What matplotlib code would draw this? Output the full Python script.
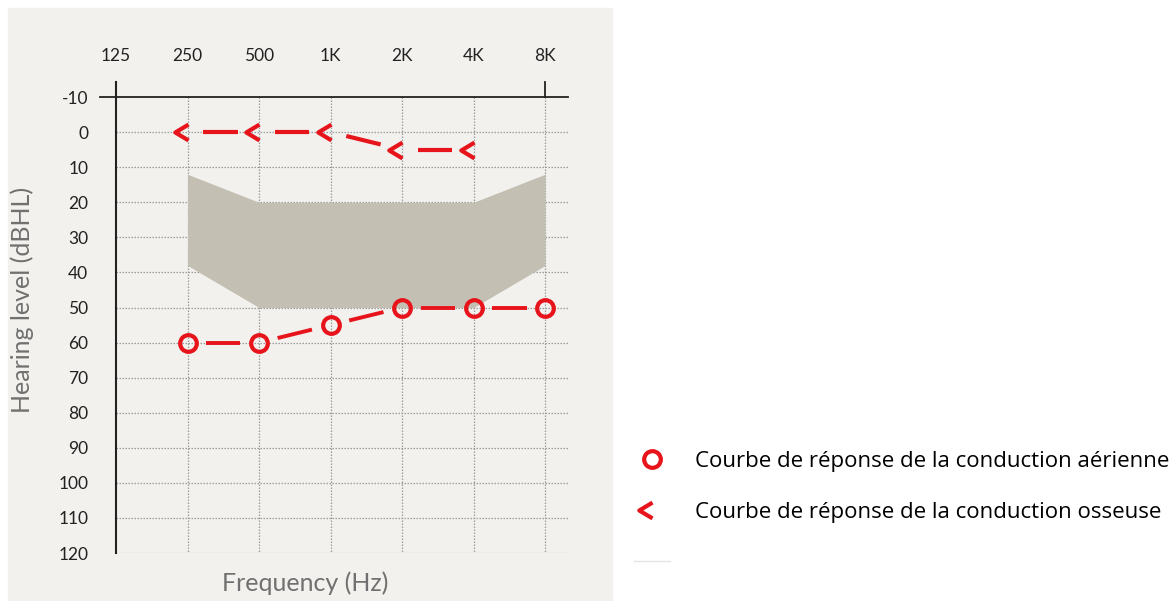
import matplotlib
matplotlib.use("Agg")
from matplotlib import pyplot as plt
from matplotlib.lines import Line2D
from matplotlib.patches import Rectangle
from matplotlib.path import Path
import numpy as np

# audiogram data
freq_labels = ["125", "250", "500", "1K", "2K", "4K", "8K"]
levels = list(range(-10, 121, 10))

air_freq = [1, 2, 3, 4, 5, 6]          # 250 .. 8K
air_level = [60, 60, 55, 50, 50, 50]

bone_freq = [1, 2, 3, 4, 5]            # 250 .. 4K
bone_level = [0, 0, 0, 5, 5]

# normal hearing zone (shaded band)
zone_freq = [1, 2, 3, 4, 5, 6]
zone_top = [12, 20, 20, 20, 20, 12]
zone_bottom = [38, 50, 50, 50, 50, 38]

legend_labels = ["Courbe de réponse de la conduction aérienne",
                 "Courbe de réponse de la conduction osseuse",
                 " "]

RED = "#e8141b"
GRID = "#9a9a9a"
PANEL = "#f2f1ee"
ZONE = "#c4bfb3"

# open chevron marker, tip on the left, anchored at right end
chevron = Path([(0, 0.6), (-1, 0), (0, -0.6)],
               [Path.MOVETO, Path.LINETO, Path.LINETO])


def dashed_links(ax, xs, ys, f0, f1, **kw):
    # one dash between each pair of points, leaving a gap round the markers
    for i in range(len(xs) - 1):
        x0, x1 = xs[i], xs[i + 1]
        y0, y1 = ys[i], ys[i + 1]
        ax.plot([x0 + f0 * (x1 - x0), x0 + f1 * (x1 - x0)],
                [y0 + f0 * (y1 - y0), y0 + f1 * (y1 - y0)], **kw)


fig = plt.figure(figsize=(11.76, 6.01), dpi=100)
fig.patches.append(Rectangle((8 / 1176, 0), 604 / 1176, 593 / 601,
                             transform=fig.transFigure, color=PANEL, zorder=-10))

ax = fig.add_axes([116 / 1176, 1 - 553 / 601, 452 / 1176, 471 / 601])
ax.set_facecolor("none")
ax.set_xlim(0, 6.32)
ax.set_ylim(120, -14.3)

# grid
ax.hlines(levels[1:], 0, 6.32, colors=GRID, linestyles=(0, (1.2, 1.2)), lw=0.9, zorder=1)
ax.vlines(range(1, 7), -10, 120, colors=GRID, linestyles=(0, (1.2, 1.2)), lw=0.9, zorder=1)
ax.plot([-0.22, 6.32], [-10, -10], color="#222222", lw=1.3, clip_on=False, zorder=2)
ax.plot([6, 6], [-14.3, -10], color="#222222", lw=1.3, clip_on=False, zorder=2)

# normal zone
ax.fill_between(zone_freq, zone_top, zone_bottom, color=ZONE, lw=0, zorder=1.5)

# air conduction
dashed_links(ax, air_freq, air_level, 0.26, 0.74, color=RED, lw=2.8,
             solid_capstyle="butt", zorder=3)
ax.plot(air_freq, air_level, ls="none", marker="o", ms=12, mfc="none",
        mec=RED, mew=3, zorder=4)

# bone conduction
dashed_links(ax, bone_freq, bone_level, 0.22, 0.70, color=RED, lw=3,
             solid_capstyle="butt", zorder=3)
ax.plot(bone_freq, bone_level, ls="none", marker=chevron, ms=19, mfc="none",
        mec=RED, mew=3, zorder=4)

# axes styling
for s in ["top", "right", "bottom"]:
    ax.spines[s].set_visible(False)
ax.spines["left"].set_color("#222222")
ax.spines["left"].set_linewidth(1.5)

ax.xaxis.tick_top()
ax.set_xticks(range(7))
ax.set_xticklabels(freq_labels, family="Lato", fontsize=12.5, color="#222222")
ax.tick_params(axis="x", length=0, pad=13)
ax.set_yticks(levels)
ax.set_yticklabels([str(v) for v in levels], family="Lato", fontsize=12.5, color="#222222")
ax.tick_params(axis="y", length=0, pad=20)

fig.text(22 / 1176, 1 - 300 / 601, "Hearing level (dBHL)", rotation=90,
         ha="center", va="center", family="Lato", fontsize=18, color="#707070")
fig.text(305 / 1176, 1 - 583 / 601, "Frequency (Hz)", ha="center", va="center",
         family="Lato", fontsize=18, color="#707070")

# legend
handles = [
    Line2D([], [], ls="none", marker="o", ms=12, mfc="none", mec=RED, mew=3),
    Line2D([], [], ls="none", marker=chevron, ms=19, mfc="none", mec=RED, mew=3),
    Line2D([], [], color="#e4e4e4", lw=1),
]
fig.legend(handles, legend_labels, loc="upper left",
           bbox_to_anchor=(634 / 1176, 1 - 451 / 601), frameon=False,
           prop={"family": "Open Sans", "size": 16}, handlelength=1.6,
           handletextpad=1.15, labelspacing=1.34, borderpad=0, borderaxespad=0)

plt.savefig("out.png", dpi=100)
